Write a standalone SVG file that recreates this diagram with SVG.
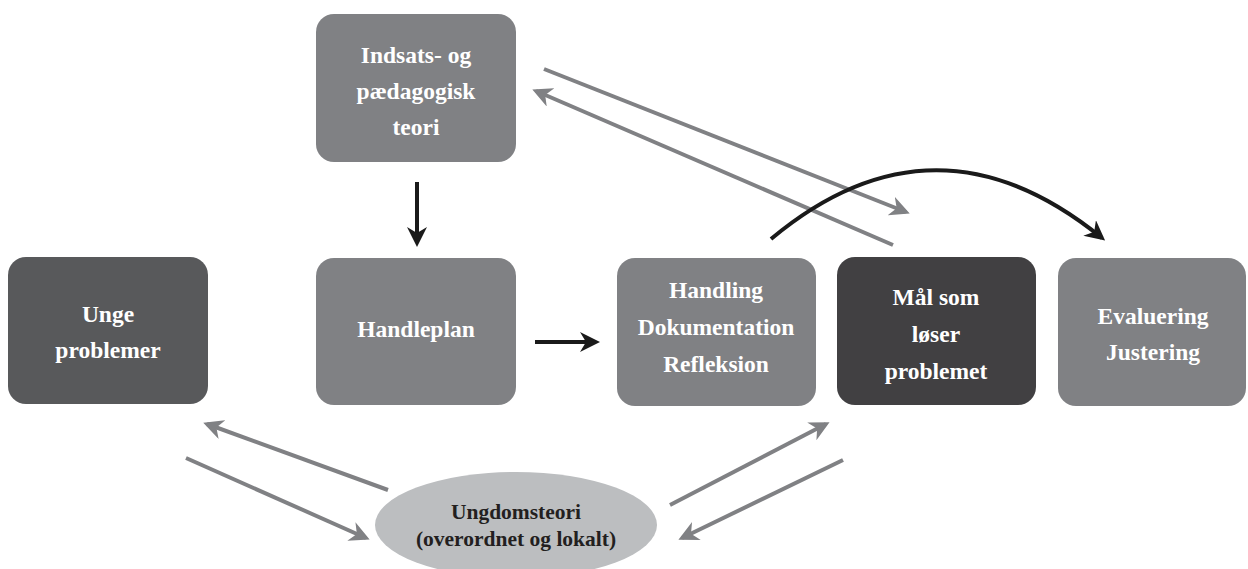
<svg xmlns="http://www.w3.org/2000/svg" width="1248" height="569" viewBox="0 0 1248 569">
<defs>
<style>
.box{fill:#808184}
.dark{fill:#58595b}
.darker{fill:#414042}
.t{font-family:"Liberation Serif",serif;font-weight:bold;font-size:23.5px;fill:#ffffff;text-anchor:middle}
.te{font-family:"Liberation Serif",serif;font-weight:bold;font-size:21.5px;fill:#231f20;text-anchor:middle}
.g{stroke:#808184;stroke-width:4;fill:none}
.k{stroke:#1a1a1a;stroke-width:4;fill:none}
</style>
<marker id="ag" viewBox="0 0 10 10" refX="8" refY="5" markerWidth="5" markerHeight="5" orient="auto" markerUnits="strokeWidth">
<path d="M0,0 L10,5 L0,10 L3,5 z" fill="#808184"/>
</marker>
<marker id="ak" viewBox="0 0 10 10" refX="8" refY="5" markerWidth="5" markerHeight="5" orient="auto" markerUnits="strokeWidth">
<path d="M0,0 L10,5 L0,10 L3,5 z" fill="#1a1a1a"/>
</marker>
</defs>
<rect width="1248" height="569" fill="#ffffff"/>
<g id="connectors">
<line class="k" x1="417" y1="182" x2="417" y2="243" marker-end="url(#ak)"/>
<line class="k" x1="535" y1="342" x2="596" y2="342" marker-end="url(#ak)"/>
<line class="g" x1="544" y1="69" x2="906" y2="212" marker-end="url(#ag)"/>
<line class="g" x1="893" y1="245" x2="536" y2="91" marker-end="url(#ag)"/>
<path class="k" d="M771,239 Q935,102 1102,238" marker-end="url(#ak)"/>
<line class="g" x1="388" y1="490" x2="207" y2="424" marker-end="url(#ag)"/>
<line class="g" x1="186" y1="458" x2="366" y2="538" marker-end="url(#ag)"/>
<line class="g" x1="670" y1="505" x2="826" y2="424" marker-end="url(#ag)"/>
<line class="g" x1="843" y1="460" x2="682" y2="538" marker-end="url(#ag)"/>
</g>
<g id="n-teori">
<rect class="box" x="316" y="14" width="200" height="148" rx="18"/>
<text class="t" x="416" y="63">Indsats- og</text>
<text class="t" x="416" y="99">pædagogisk</text>
<text class="t" x="416" y="135">teori</text>
</g>
<g id="n-unge">
<rect class="dark" x="8" y="257" width="200" height="147" rx="18"/>
<text class="t" x="108" y="322">Unge</text>
<text class="t" x="108" y="358">problemer</text>
</g>
<g id="n-handleplan">
<rect class="box" x="316" y="258" width="200" height="147" rx="18"/>
<text class="t" x="416" y="337">Handleplan</text>
</g>
<g id="n-handling">
<rect class="box" x="617" y="258" width="199" height="148" rx="18"/>
<text class="t" x="716" y="298">Handling</text>
<text class="t" x="716" y="335">Dokumentation</text>
<text class="t" x="716" y="372">Refleksion</text>
</g>
<g id="n-maal">
<rect class="darker" x="837" y="257" width="199" height="148" rx="18"/>
<text class="t" x="936" y="305">Mål som</text>
<text class="t" x="936" y="342">løser</text>
<text class="t" x="936" y="379">problemet</text>
</g>
<g id="n-evaluering">
<rect class="box" x="1058" y="258" width="188" height="148" rx="18"/>
<text class="t" x="1153" y="324">Evaluering</text>
<text class="t" x="1153" y="360">Justering</text>
</g>
<g id="n-ungdomsteori">
<ellipse cx="516" cy="525" rx="141" ry="53" fill="#bcbec0"/>
<text class="te" x="516" y="519">Ungdomsteori</text>
<text class="te" x="516" y="546">(overordnet og lokalt)</text>
</g>
</svg>
